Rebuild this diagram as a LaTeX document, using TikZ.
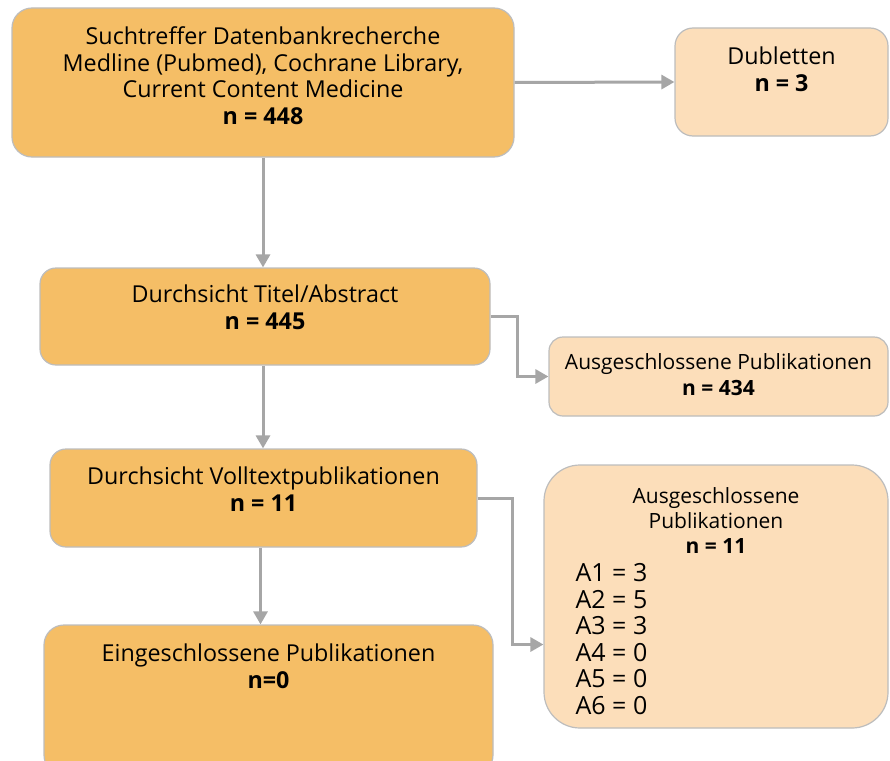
\documentclass[tikz,border=0pt]{standalone}
\usepackage{fontspec}
\setmainfont{Open Sans}
\usetikzlibrary{arrows.meta}
\definecolor{darkfill}{HTML}{F5BE66}
\definecolor{lightfill}{HTML}{FCDEBA}
\definecolor{boxline}{HTML}{BDBDBD}
\definecolor{arrowgray}{HTML}{A6A6A6}

\begin{document}
\begin{tikzpicture}[x=1pt,y=-1pt,font=\fontsize{23.3}{26.7}\selectfont,
	mainbox/.style={rectangle,rounded corners=20pt,draw=boxline,fill=darkfill,line width=1.2pt,inner sep=0pt},
	sidebox/.style={rectangle,rounded corners=18pt,draw=boxline,fill=lightfill,line width=1.2pt,inner sep=0pt},
	inner/.style={anchor=north,align=center,inner sep=0pt,draw=none,fill=none},
	flow/.style={draw=arrowgray,line width=3pt,-{Triangle[length=13pt,width=14pt]}}]
	
	\clip (0,0) rectangle (890,760);
	\fill[white] (0,0) rectangle (890,760);
	
	\node[mainbox,minimum width=502,minimum height=149,
		label={[inner,yshift=-19pt]north:{Suchtreffer Datenbankrecherche\\Medline (Pubmed), Cochrane Library,\\Current Content Medicine\\\textbf{n = 448}}}]
		(search) at (263,82.5) {};
	\node[sidebox,minimum width=213,minimum height=108,
		label={[inner,yshift=-19pt]north:{Dubletten\\\textbf{n = 3}}}]
		(dup) at (781.5,82) {};
	\node[mainbox,minimum width=450,minimum height=97,rounded corners=16pt,
		label={[inner,yshift=-17pt]north:{Durchsicht Titel/Abstract\\\textbf{n = 445}}}]
		(screen) at (265,316.5) {};
	\node[sidebox,minimum width=339,minimum height=79,rounded corners=14pt,
		label={[inner,yshift=-17pt,font=\fontsize{21}{25.5}\selectfont]north:{Ausgeschlossene Publikationen\\\textbf{n = 434}}}]
		(excla) at (718.5,376.5) {};
	\node[mainbox,minimum width=427,minimum height=98,rounded corners=16pt,
		label={[inner,yshift=-18pt]north:{Durchsicht Volltextpublikationen\\\textbf{n = 11}}}]
		(fulltext) at (263.5,498) {};
	\node[sidebox,minimum width=344,minimum height=263,rounded corners=36pt,
		label={[inner,yshift=-23pt,font=\fontsize{21}{25}\selectfont]north:{Ausgeschlossene\\Publikationen\\\textbf{n = 11}}},
		label={[anchor=north west,align=left,inner sep=0pt,draw=none,fill=none,xshift=32pt,yshift=-99pt,font=\fontsize{25}{26.5}\selectfont]north west:{A1 = 3\\A2 = 5\\A3 = 3\\A4 = 0\\A5 = 0\\A6 = 0}}]
		(exclb) at (716,596.5) {};
	\node[mainbox,minimum width=449,minimum height=150,
		label={[inner,yshift=-19pt]north:{Eingeschlossene Publikationen\\\textbf{n=0}}}]
		(included) at (268.5,700) {};
	
	\draw[flow] (search.east) -- (dup.west);
	\draw[flow] (search.south) -- (search.south |- screen.north);
	\draw[flow] (screen.east) -- ++(27,0) |- (excla.west);
	\draw[flow] ([xshift=-2pt]screen.south) -- ([xshift=-2pt]screen.south |- fulltext.north);
	\draw[flow] (fulltext.east) -- ++(35,0) |- ([yshift=-48pt]exclb.west);
	\draw[flow] ([xshift=-3pt]fulltext.south) -- ([xshift=-3pt]fulltext.south |- included.north);
\end{tikzpicture}
\end{document}
